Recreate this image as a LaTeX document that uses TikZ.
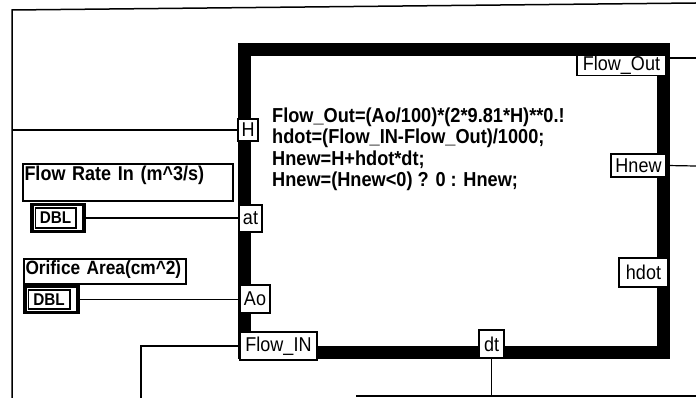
\documentclass[tikz,border=0pt]{standalone}
\usepackage{fontspec}
\setmainfont{Liberation Sans}
\newfontfamily\condfont[FakeStretch=0.9]{Liberation Sans}
\begin{document}
\begin{tikzpicture}[x=1pt,y=-1pt,
  wire/.style={line width=1.2pt},
  border/.style={line width=1.5pt},
  term/.style={draw, line width=1.8pt, fill=white, inner sep=0pt, font=\condfont\fontsize{20}{20}\selectfont},
  codeline/.style={anchor=base west, inner sep=0pt, font=\condfont\bfseries\fontsize{20.2}{21}\selectfont},
  lblbox/.style={draw, line width=2pt, fill=white, inner xsep=1.5pt, inner ysep=0pt, anchor=north west, align=left, font=\condfont\bfseries\fontsize{20}{20}\selectfont},
  dblbox/.style={draw, line width=3.2pt, fill=white, inner sep=0pt,
    font=\condfont\bfseries\fontsize{17}{17}\selectfont,
    path picture={
      \draw[line width=1.5pt] ([shift={(3.5pt,-3.5pt)}]path picture bounding box.north west) rectangle ([shift={(-8pt,3.5pt)}]path picture bounding box.south east);
      \fill ([shift={(-7pt,-3pt)}]path picture bounding box.north east) -- ([shift={(-2pt,0pt)}]path picture bounding box.east) -- ([shift={(-7pt,3pt)}]path picture bounding box.south east) -- cycle;
    }},
  frame/.style={draw, line width=13pt, inner sep=0pt}
]
\useasboundingbox (0,0) rectangle (696,398);

% outer wires / borders
\coordinate (tl) at (12,10);
\coordinate (bl) at (12,398);
\coordinate (tr) at (696,3);
\coordinate (bb1) at (356,396);
\coordinate (bb2) at (696,396);
\draw[border] (bl) -- (tl) -- (tr);
\draw[border] (bb1) -- (bb2);

% formula node frame
\node[frame, minimum width=419, minimum height=302] (fn) at (453.5,201) {};

% code
\node[codeline] (c1) at (272,122.5) {Flow\_Out=(Ao/100)*(2*9.81*H)**0.!};
\node[codeline] (c2) at (272,143.5) {hdot=(Flow\_IN-Flow\_Out)/1000;};
\node[codeline] (c3) at (272,165.5) {Hnew=H+hdot*dt;};
\node[codeline] (c4) at (272,186.5) {Hnew=(Hnew<0) ? 0 : Hnew;};

% terminals
\node[term, minimum width=20, minimum height=22] (tH) at (248,130) {H};
\node[term, minimum width=23, minimum height=27] (tat) at (250.5,218.5) {at};
\node[term, minimum width=30, minimum height=28] (tAo) at (255,299) {Ao};
\node[term, minimum width=77, minimum height=28] (tFin) at (278.5,346) {Flow\_IN};
\node[term, minimum width=89, minimum height=20] (tFout) at (621.5,65.5) {Flow\_Out};
\node[term, minimum width=55, minimum height=23] (tHnew) at (638.5,165.5) {Hnew};
\node[term, minimum width=49, minimum height=29] (thdot) at (643.5,272.5) {hdot};
\node[term, minimum width=25, minimum height=28] (tdt) at (491.5,344) {dt};

% labels and controls
\node[lblbox, text width=207, text height=17, text depth=20] (lFR) at (22,163) {Flow Rate In (m\^{}3/s)};
\node[lblbox, text width=159, text height=15, text depth=10, font=\condfont\bfseries\fontsize{19.2}{20}\selectfont] (lOA) at (23,258) {Orifice Area(cm\^{}2)};
\node[dblbox, minimum width=52, minimum height=27] (d1) at (58,218) {DBL\hspace*{5pt}};
\node[dblbox, minimum width=53, minimum height=26] (d2) at (51.5,299.5) {DBL\hspace*{5pt}};

% wires
\coordinate (hstart) at (12,130);
\coordinate (foend) at (696,58);
\coordinate (hnend) at (696,166);
\coordinate (finend) at (141,398);
\draw[wire] (hstart) -- (tH.west);
\draw[wire] (d1.east) -- (d1.east -| tat.west);
\draw[wire] (d2.east) -- (d2.east -| tAo.west);
\draw[wire] (tFin.west) -| (finend);
\draw[wire] ([yshift=7.5pt]tFout.east) -- (foend);
\draw[wire] (tHnew.east) -- (hnend);
\draw[wire] (tdt.south) -- (tdt.south |- bb1);
\end{tikzpicture}
\end{document}
